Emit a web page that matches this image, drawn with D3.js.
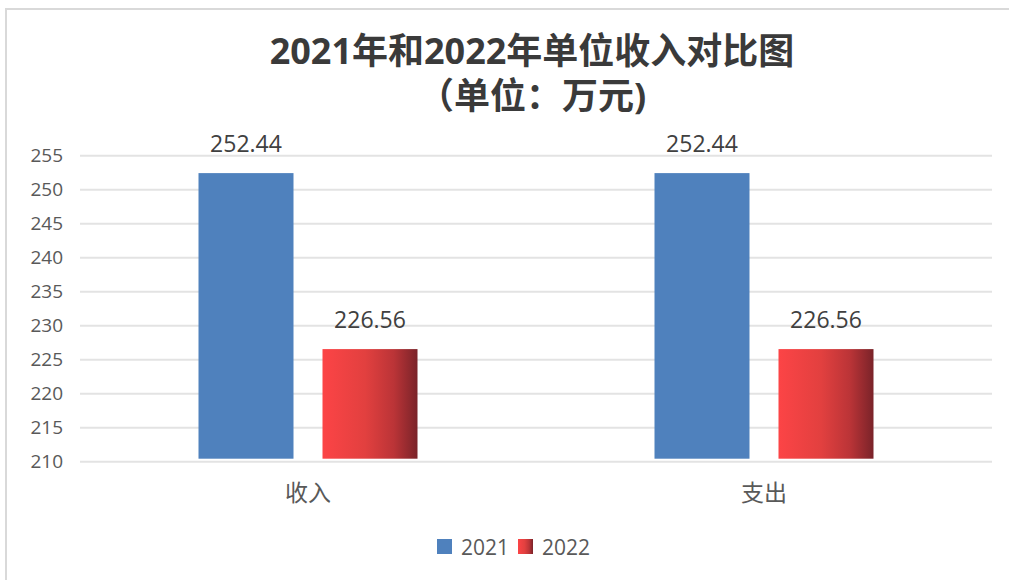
<!DOCTYPE html>
<html>
<head>
<meta charset="utf-8">
<script src="https://cdn.jsdelivr.net/npm/d3@7"></script>
<style>
  body { margin: 0; background: #fff; }
  svg text { font-family: "Open Sans", "Noto Sans CJK SC", sans-serif; }
</style>
</head>
<body>
<div id="chart"></div>
<script>
// chart data
const categories = ["收入", "支出"];
const seriesNames = ["2021", "2022"];
const values2021 = [252.44, 252.44];
const values2022 = [226.56, 226.56];
const yTicks = [210, 215, 220, 225, 230, 235, 240, 245, 250, 255];
const titleLines = ["2021年和2022年单位收入对比图", "（单位：万元)"];

const W = 1009, H = 580;
const plot = {left: 80, right: 992, top: 155.7, bottom: 461.7};

const svg = d3.select("#chart").append("svg")
    .attr("width", W)
    .attr("height", H);

// gradient for 2022 bars
const defs = svg.append("defs");
const grad = defs.append("linearGradient")
    .attr("id", "redGrad")
    .attr("x1", "0%").attr("x2", "100%")
    .attr("y1", "0%").attr("y2", "0%");
grad.append("stop").attr("offset", "0%").attr("stop-color", "#fc4446");
grad.append("stop").attr("offset", "45%").attr("stop-color", "#e2403f");
grad.append("stop").attr("offset", "75%").attr("stop-color", "#bb3437");
grad.append("stop").attr("offset", "100%").attr("stop-color", "#7a2329");

// outer frame (only top & left visible)
svg.append("path")
    .attr("d", "M6,580 V9 H1009")
    .attr("fill", "none")
    .attr("stroke", "#d9d9d9")
    .attr("stroke-width", 2);

// title, two lines
svg.append("g")
    .selectAll("text")
    .data(titleLines)
    .enter()
    .append("text")
    .attr("x", 532)
    .attr("y", (d, i) => 64 + i * 45)
    .attr("text-anchor", "middle")
    .attr("font-family", "'Liberation Sans', 'Noto Sans CJK SC', sans-serif")
    .attr("font-weight", "bold")
    .attr("font-size", "36px")
    .attr("fill", "#3a3a3a")
    .text(d => d);

// scales
const x0 = d3.scaleBand()
    .domain(categories)
    .range([plot.left, plot.right]);
const y = d3.scaleLinear()
    .domain([210, 255])
    .range([plot.bottom, plot.top]);

const barW = 95, gap = 29;

// gridlines
svg.append("g")
    .selectAll("line")
    .data(yTicks)
    .enter()
    .append("line")
    .attr("x1", plot.left)
    .attr("x2", plot.right)
    .attr("y1", d => y(d))
    .attr("y2", d => y(d))
    .attr("stroke", "#e3e3e3")
    .attr("stroke-width", 2);

// y axis labels
const yAxis = svg.append("g")
    .attr("transform", "translate(63,0)")
    .call(d3.axisLeft(y).tickValues(yTicks).tickSize(0).tickPadding(0));
yAxis.select(".domain").remove();
yAxis.selectAll("text")
    .attr("font-family", "'Open Sans', sans-serif")
    .attr("font-size", "19px")
    .attr("fill", "#595959");

// bars
const rows = categories.map((c, i) => ({cat: c, vals: [values2021[i], values2022[i]]}));
const groups = svg.append("g")
    .selectAll("g")
    .data(rows)
    .enter()
    .append("g")
    .attr("transform", d => "translate(" + (x0(d.cat) + x0.bandwidth() / 2) + ",0)");

const barX = i => i === 0 ? -(barW + gap / 2) : gap / 2;
const fills = ["#4f81bd", "url(#redGrad)"];

groups.selectAll("rect")
    .data(d => d.vals)
    .enter()
    .append("rect")
    .attr("x", (d, i) => barX(i))
    .attr("width", barW)
    .attr("y", d => y(d))
    .attr("height", d => y(210) - y(d) - 3)
    .attr("fill", (d, i) => fills[i]);

// value labels
groups.selectAll("text.val")
    .data(d => d.vals)
    .enter()
    .append("text")
    .attr("class", "val")
    .attr("x", (d, i) => barX(i) + barW / 2)
    .attr("y", d => y(d) - 21)
    .attr("text-anchor", "middle")
    .attr("font-size", "23px")
    .attr("fill", "#404040")
    .text(d => d.toFixed(2));

// category labels
svg.append("g")
    .selectAll("text")
    .data(categories)
    .enter()
    .append("text")
    .attr("x", d => x0(d) + x0.bandwidth() / 2)
    .attr("y", 501)
    .attr("text-anchor", "middle")
    .attr("font-family", "'Noto Sans CJK SC', sans-serif")
    .attr("font-size", "23px")
    .attr("fill", "#595959")
    .text(d => d);

// legend
const legendX = [437, 518];
const legend = svg.append("g")
    .selectAll("g")
    .data(seriesNames)
    .enter()
    .append("g")
    .attr("transform", (d, i) => "translate(" + legendX[i] + ",539)");
legend.append("rect")
    .attr("width", 15)
    .attr("height", 15)
    .attr("fill", (d, i) => fills[i]);
legend.append("text")
    .attr("x", 24)
    .attr("y", 16)
    .attr("font-size", "21px")
    .attr("fill", "#595959")
    .text(d => d);
</script>
</body>
</html>
